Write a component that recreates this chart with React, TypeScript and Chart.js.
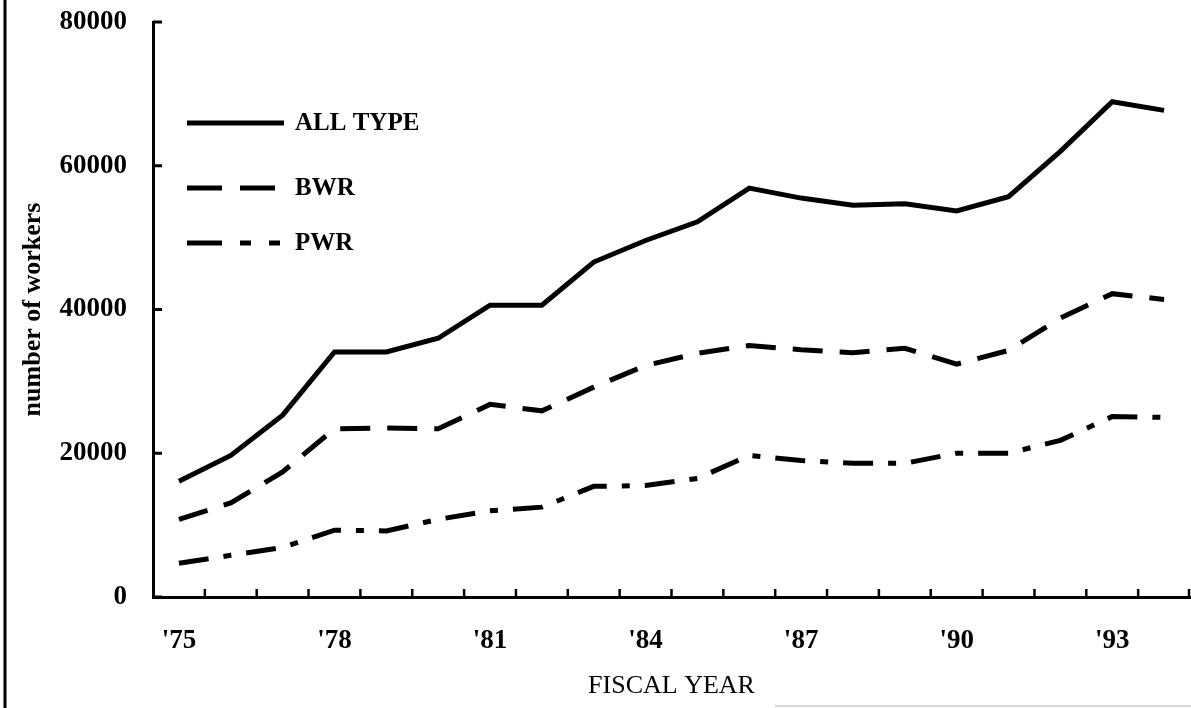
import React, { useEffect, useRef } from "react";
import { Chart, registerables } from "chart.js";

Chart.register(...registerables);

const years = ["'75", "'76", "'77", "'78", "'79", "'80", "'81", "'82", "'83", "'84", "'85", "'86", "'87", "'88", "'89", "'90", "'91", "'92", "'93", "'94"];
const allType = [16100, 19700, 25300, 34100, 34100, 36000, 40600, 40600, 46600, 49600, 52200, 56900, 55500, 54500, 54700, 53700, 55700, 62000, 68900, 67700];
const bwr = [10800, 13100, 17400, 23400, 23500, 23400, 26800, 25900, 29200, 32200, 33900, 35000, 34400, 34000, 34600, 32400, 34300, 38800, 42200, 41400];
const pwr = [4700, 5800, 6900, 9300, 9200, 10800, 12000, 12500, 15400, 15500, 16500, 19700, 19000, 18600, 18600, 20000, 20000, 21800, 25100, 25000];
const seriesNames = ["ALL TYPE", "BWR", "PWR"];
const yTicks = { min: 0, max: 80000, step: 20000 };

const FONT = "'Liberation Serif', 'Times New Roman', serif";

const decorPlugin = {
  id: "decor",
  beforeDraw(chart: any) {
    const ctx = chart.ctx;
    ctx.save();
    ctx.fillStyle = "#fff";
    ctx.fillRect(0, 0, chart.width, chart.height);
    ctx.restore();
  },
  afterDraw(chart: any) {
    const ctx = chart.ctx;
    const { left, right, bottom } = chart.chartArea;
    const xs = chart.scales.x;
    const ys = chart.scales.y;
    ctx.save();
    ctx.strokeStyle = "#000";
    // page border line on the left
    ctx.lineWidth = 3;
    ctx.beginPath();
    ctx.moveTo(5, 0);
    ctx.lineTo(5, chart.height);
    ctx.stroke();
    // faint bottom line
    ctx.strokeStyle = "#c8c8c8";
    ctx.lineWidth = 1.5;
    ctx.beginPath();
    ctx.moveTo(775, 706);
    ctx.lineTo(chart.width, 706);
    ctx.stroke();
    // inner y tick marks
    ctx.strokeStyle = "#000";
    ctx.lineWidth = 3;
    ys.ticks.forEach((t: any) => {
      const y = ys.getPixelForValue(t.value);
      ctx.beginPath();
      ctx.moveTo(left, y);
      ctx.lineTo(left + 9, y);
      ctx.stroke();
    });
    // inner x tick marks at category boundaries
    const half = (xs.getPixelForValue(1) - xs.getPixelForValue(0)) / 2;
    ctx.lineWidth = 2.5;
    for (let i = 1; i <= years.length; i++) {
      const x = i === years.length ? right - 1 : xs.getPixelForValue(i) - half;
      ctx.beginPath();
      ctx.moveTo(x, bottom);
      ctx.lineTo(x, bottom - 8);
      ctx.stroke();
    }
    // legend
    const items = [
      { y: 123, dash: [] as number[] },
      { y: 188, dash: [35, 18] },
      { y: 243, dash: [35, 18, 11, 18, 11, 100] },
    ];
    items.forEach((it, i) => {
      ctx.lineWidth = 5;
      ctx.setLineDash(it.dash);
      ctx.beginPath();
      ctx.moveTo(187, it.y);
      ctx.lineTo(284, it.y);
      ctx.stroke();
      ctx.setLineDash([]);
      ctx.fillStyle = "#000";
      ctx.font = `bold 25px ${FONT}`;
      ctx.textBaseline = "middle";
      ctx.textAlign = "left";
      ctx.fillText(seriesNames[i], 295, it.y + 1);
    });
    ctx.restore();
  },
};

export default function App() {
  const ref = useRef<HTMLCanvasElement>(null);
  useEffect(() => {
    document.body.style.margin = "0";
    const canvas = ref.current!;
    const common = {
      borderColor: "#000",
      borderWidth: 5,
      pointRadius: 0,
      tension: 0,
      fill: false,
    };
    const chart = new Chart(canvas, {
      type: "line",
      data: {
        labels: years,
        datasets: [
          { ...common, label: seriesNames[0], data: allType },
          { ...common, label: seriesNames[1], data: bwr, borderDash: [30, 17] },
          { ...common, label: seriesNames[2], data: pwr, borderDash: [30, 15, 8, 15] },
        ],
      },
      options: {
        responsive: false,
        animation: false,
        devicePixelRatio: 1,
        layout: { padding: { top: 22, right: 1, left: 0, bottom: 0 } },
        plugins: { legend: { display: false }, tooltip: { enabled: false } },
        scales: {
          x: {
            type: "category",
            offset: true,
            grid: { display: false, offset: true, drawTicks: false },
            border: { display: true, color: "#000", width: 3 },
            ticks: {
              autoSkip: false,
              maxRotation: 0,
              color: "#000",
              padding: 28,
              font: { family: FONT, size: 27, weight: "bold" },
              callback: (_v: any, i: number) => (i % 3 === 0 ? years[i] : ""),
            },
            title: {
              display: true,
              text: "FISCAL YEAR",
              color: "#000",
              font: { family: FONT, size: 26 },
              padding: { top: 0, bottom: 6 },
            },
            afterFit: (s: any) => {
              s.height = 111;
              s.paddingLeft = 0;
              s.paddingRight = 0;
            },
          },
          y: {
            min: yTicks.min,
            max: yTicks.max,
            grid: { display: false, drawTicks: false },
            border: { display: true, color: "#000", width: 3 },
            ticks: {
              stepSize: yTicks.step,
              color: "#000",
              padding: 26,
              font: { family: FONT, size: 27, weight: "bold" },
              callback: (v: any) => String(v),
            },
            title: {
              display: true,
              text: "number of workers",
              color: "#000",
              font: { family: FONT, size: 26, weight: "bold" },
              padding: { top: 18, bottom: 0 },
            },
            afterFit: (s: any) => {
              s.width = 153;
              s.paddingTop = 0;
              s.paddingBottom = 0;
            },
          },
        },
      },
      plugins: [decorPlugin],
    } as any);
    return () => chart.destroy();
  }, []);
  return <canvas ref={ref} width={1191} height={708} style={{ display: "block" }} />;
}
